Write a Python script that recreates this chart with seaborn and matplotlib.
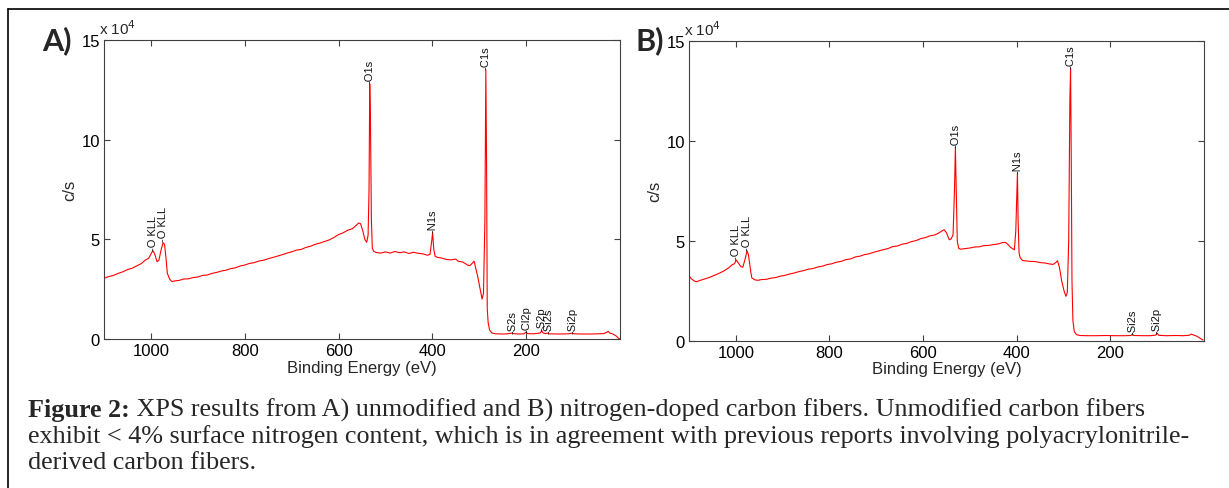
import matplotlib
matplotlib.use("Agg")
import matplotlib.pyplot as plt
from matplotlib.lines import Line2D
import seaborn as sns

# binding energy (eV) and counts (x 10^4 c/s)
energy_a = [1100, 1090, 1080, 1070, 1060, 1050, 1040, 1030, 1020, 1012, 1005, 998, 995, 991, 987,
            983, 978, 974, 971, 968, 965, 960, 955, 950, 940, 930, 920, 910, 900, 890, 880, 870,
            860, 850, 840, 830, 820, 810, 800, 790, 780, 770, 760, 750, 740, 730, 720, 710, 700,
            690, 680, 670, 660, 650, 640, 630, 620, 610, 600, 590, 580, 570, 560, 557, 553, 548,
            544, 540, 537, 535, 533.5, 532, 530, 528, 525, 520, 510, 500, 490, 480, 470, 460, 450,
            440, 430, 420, 410, 405, 401, 399.5, 397, 394, 390, 380, 370, 360, 350, 345, 335, 325,
            320, 315, 311, 307, 303, 298, 294, 291, 288, 286, 284.5, 283, 281, 278, 273, 265, 250,
            240, 230, 228, 215, 205, 200, 197, 185, 170, 167, 164, 158, 155, 152, 130, 110, 102,
            98, 80, 60, 45, 35, 28, 25, 22, 15, 8, 3, 1]
counts_a = [3.05, 3.13, 3.19, 3.29, 3.37, 3.48, 3.55, 3.67, 3.79, 3.96, 4.04, 4.35, 4.42, 4.20, 3.88,
            3.95, 4.50, 4.83, 4.75, 4.10, 3.30, 3.00, 2.88, 2.91, 2.94, 3.01, 3.02, 3.08, 3.11, 3.19,
            3.21, 3.29, 3.34, 3.41, 3.45, 3.53, 3.57, 3.66, 3.71, 3.79, 3.83, 3.91, 3.95, 4.03, 4.09,
            4.16, 4.23, 4.31, 4.37, 4.46, 4.49, 4.59, 4.65, 4.75, 4.81, 4.89, 4.97, 5.09, 5.24, 5.33,
            5.46, 5.54, 5.75, 5.82, 5.78, 5.40, 5.00, 4.85, 5.20, 7.5, 12.8, 11.0, 6.0, 4.55, 4.40,
            4.34, 4.31, 4.37, 4.31, 4.39, 4.33, 4.37, 4.29, 4.35, 4.30, 4.27, 4.20, 4.25, 5.0, 5.33,
            4.50, 4.15, 4.10, 4.06, 3.99, 3.97, 4.01, 3.90, 3.86, 3.71, 3.68, 3.80, 3.90, 3.50, 3.10,
            2.50, 2.00, 2.30, 6.0, 13.5, 9.0, 1.5, 0.8, 0.45, 0.30, 0.26, 0.25, 0.26, 0.30, 0.27,
            0.25, 0.26, 0.35, 0.27, 0.26, 0.30, 0.42, 0.30, 0.27, 0.30, 0.26, 0.25, 0.26, 0.29, 0.26,
            0.25, 0.25, 0.26, 0.27, 0.34, 0.38, 0.30, 0.25, 0.15, 0.03, 0.02]

energy_b = [1100, 1095, 1088, 1084, 1075, 1065, 1055, 1045, 1035, 1025, 1015, 1008, 1003, 999, 995,
            989, 985, 980, 976, 973, 969, 966, 960, 953, 945, 935, 925, 915, 905, 895, 885, 875,
            865, 855, 845, 835, 825, 815, 805, 795, 785, 775, 765, 755, 745, 735, 725, 715, 705,
            695, 685, 675, 665, 655, 645, 635, 625, 615, 605, 595, 585, 575, 565, 558, 555, 550,
            544, 540, 536, 533, 531, 529.5, 527, 524, 520, 510, 500, 490, 480, 470, 460, 450, 440,
            430, 424, 418, 413, 405, 402, 399.5, 398.5, 397, 395, 393, 388, 380, 370, 360, 350, 340,
            330, 322, 316, 313, 309, 304, 299, 295, 292, 289, 286.5, 285, 283.5, 282, 280, 277, 272,
            265, 250, 230, 210, 190, 170, 156, 153, 150, 130, 115, 103, 100, 97, 80, 60, 45, 32,
            27, 24, 15, 8, 2]
counts_b = [3.25, 3.10, 2.98, 2.95, 3.03, 3.10, 3.18, 3.28, 3.38, 3.50, 3.65, 3.80, 3.85, 4.04, 3.90,
            3.70, 3.68, 4.10, 4.50, 4.30, 3.60, 3.15, 3.05, 3.02, 3.06, 3.07, 3.13, 3.16, 3.23, 3.27,
            3.34, 3.39, 3.46, 3.51, 3.58, 3.61, 3.69, 3.73, 3.81, 3.85, 3.93, 3.97, 4.06, 4.09, 4.19,
            4.23, 4.31, 4.35, 4.43, 4.49, 4.56, 4.61, 4.71, 4.74, 4.83, 4.87, 4.96, 5.01, 5.11, 5.16,
            5.25, 5.29, 5.41, 5.52, 5.55, 5.40, 5.05, 5.10, 5.30, 7.5, 9.68, 8.0, 5.0, 4.62, 4.58,
            4.61, 4.64, 4.69, 4.70, 4.76, 4.77, 4.81, 4.84, 4.91, 4.92, 4.80, 4.67, 4.55, 5.5, 7.5,
            8.39, 6.0, 4.40, 4.17, 4.02, 3.99, 3.97, 3.96, 3.91, 3.89, 3.84, 3.82, 3.92, 4.00, 3.70,
            3.00, 2.50, 2.22, 2.40, 5.0, 12.0, 13.63, 9.0, 3.0, 1.0, 0.45, 0.30, 0.26, 0.25, 0.25,
            0.26, 0.25, 0.25, 0.26, 0.33, 0.26, 0.25, 0.25, 0.28, 0.38, 0.27, 0.25, 0.26, 0.25, 0.27,
            0.33, 0.30, 0.22, 0.12, 0.03]

# peak labels: name, energy, counts where the label starts
peaks_a = ["O KLL", "O KLL", "O1s", "N1s", "C1s", "S2s", "Cl2p", "S2p", "Si2s", "Si2p"]
peak_e_a = [996, 974, 533.5, 399.5, 286, 230, 200, 168, 153, 101]
peak_y_a = [4.45, 4.9, 12.85, 5.35, 13.55, 0.32, 0.37, 0.44, 0.32, 0.30]

peaks_b = ["O KLL", "O KLL", "O1s", "N1s", "C1s", "Si2s", "Si2p"]
peak_e_b = [999, 976, 531, 398.5, 285, 153, 101]
peak_y_b = [4.1, 4.55, 9.7, 8.4, 13.65, 0.35, 0.4]

xticks = [1000, 800, 600, 400, 200]
yticks = [0, 5, 10, 15]

sns.set_theme(style="ticks")
plt.rcParams['font.family'] = ['Liberation Sans', 'DejaVu Sans']

fig = plt.figure(figsize=(12.29, 4.89), dpi=100)
ax_a = fig.add_axes([104 / 1229, 1 - 340 / 489, 516 / 1229, 299 / 489])
ax_b = fig.add_axes([689 / 1229, 1 - 341.7 / 489, 515 / 1229, 299.7 / 489])


def draw_panel(ax, energy, counts, names, pe, py):
    sns.lineplot(x=energy, y=counts, ax=ax, color="#ff0000", linewidth=0.8,
                 sort=False, estimator=None)
    ax.set_xlim(1100, 0)
    ax.set_ylim(0, 15)
    ax.set_xticks(xticks)
    ax.set_yticks(yticks)
    ax.tick_params(direction="in", top=True, right=True, length=4, width=0.8,
                   color="#404040", labelsize=12, pad=3, labelcolor="black")
    for s in ax.spines.values():
        s.set_color("#404040")
        s.set_linewidth(0.8)
    ax.set_xlabel("Binding Energy (eV)", fontsize=12, labelpad=1)
    ax.set_ylabel("c/s", fontsize=12, labelpad=3)
    ax.text(-0.01, 1.01, r"x 10$^{4}$", transform=ax.transAxes, fontsize=11,
            ha="left", va="bottom")
    for name, e, y in zip(names, pe, py):
        ax.text(e, y, "-" + name, rotation=90, rotation_mode="anchor",
                ha="left", va="center", fontsize=8, color="#111111")


draw_panel(ax_a, energy_a, counts_a, peaks_a, peak_e_a, peak_y_a)
draw_panel(ax_b, energy_b, counts_b, peaks_b, peak_e_b, peak_y_b)

fig.text(42 / 1229, 1 - 41 / 489, "A)", family=["Lato", "DejaVu Sans"], weight="bold",
         fontsize=22, ha="left", va="center")
fig.text(636 / 1229, 1 - 41 / 489, "B)", family=["Lato", "DejaVu Sans"], weight="bold",
         fontsize=22, ha="left", va="center")

# outer frame (top and left edges are visible)
fig.add_artist(Line2D([8 / 1229, 1.0], [1 - 10 / 489, 1 - 10 / 489], color="black", lw=1.2))
fig.add_artist(Line2D([8 / 1229, 8 / 1229], [0, 1 - 10 / 489], color="black", lw=1.2))

# caption
serif = ["Liberation Serif", "DejaVu Serif"]
cap_size = 18.8
t1 = fig.text(28 / 1229, 1 - 417 / 489, "Figure 2:", family=serif, weight="bold",
              fontsize=cap_size, ha="left", va="baseline")
ax_a.annotate(" XPS results from A) unmodified and B) nitrogen-doped carbon fibers. "
              "Unmodified carbon fibers", xy=(1, 0), xycoords=t1, ha="left", va="bottom",
              family=serif, fontsize=cap_size, annotation_clip=False)
fig.text(28 / 1229, 1 - 443 / 489, "exhibit < 4% surface nitrogen content, which is in agreement "
         "with previous reports involving polyacrylonitrile-", family=serif, fontsize=cap_size,
         ha="left", va="baseline")
fig.text(28 / 1229, 1 - 469 / 489, "derived carbon fibers.", family=serif, fontsize=cap_size,
         ha="left", va="baseline")

plt.savefig("out.png", dpi=100)
